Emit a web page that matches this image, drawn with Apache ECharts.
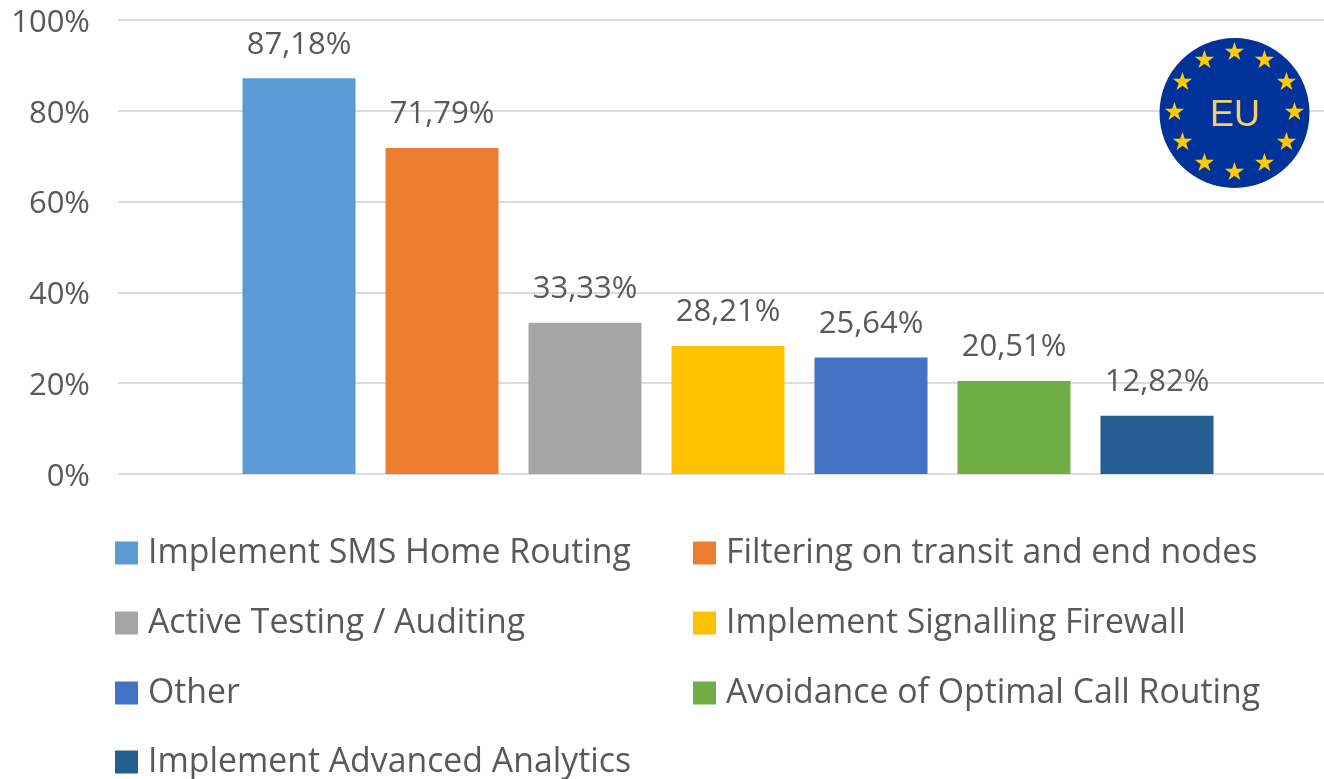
<!DOCTYPE html>
<html><head><meta charset="utf-8">
<style>html,body{margin:0;padding:0;background:#fff}#c{width:1324px;height:779px}</style>
<script src="https://cdn.jsdelivr.net/npm/echarts@6/dist/echarts.min.js"></script></head>
<body><div id="c"></div>
<script>
const categories=['Implement SMS Home Routing','Filtering on transit and end nodes','Active Testing / Auditing','Implement Signalling Firewall','Other','Avoidance of Optimal Call Routing','Implement Advanced Analytics'];
const values=[87.18,71.79,33.33,28.21,25.64,20.51,12.82];
const colors=['#5b9bd5','#ed7d31','#a5a5a5','#ffc000','#4472c4','#70ad47','#255e91'];
const FONT='"Open Sans","Noto Sans",sans-serif';
const chart=echarts.init(document.getElementById('c'),null,{renderer:'canvas'});
const legendCols=[115,693], legendRows=[552,622,692,761];
const legends=categories.map((n,i)=>({
  data:[n],left:legendCols[i%2],top:legendRows[Math.floor(i/2)]-16,orient:'horizontal',
  icon:'rect',itemWidth:23,itemHeight:23,padding:0,selectedMode:false,
  textStyle:{fontFamily:FONT,fontSize:33.8,color:'#595959',padding:[0,0,0,5]}
}));
const series=categories.map((n,i)=>({
  name:n,type:'bar',xAxisIndex:1,yAxisIndex:1,barWidth:113,barGap:'-100%',
  itemStyle:{color:colors[i]},
  label:{show:true,position:'top',distance:18,fontFamily:FONT,fontSize:31,color:'#595959',
    formatter:()=>values[i].toFixed(2).replace('.',',')+'%'},
  data:categories.map((c,j)=>j===i?values[i]:null)
}));
const stars=[];
for(let k=0;k<12;k++){const a=k*Math.PI/6;
  stars.push({type:'text',style:{text:'★',x:1234.5+Math.sin(a)*60,y:113-Math.cos(a)*60,align:'center',verticalAlign:'middle',fontSize:25,fill:'#ffcc00',fontFamily:'DejaVu Sans'},z:12});}
chart.setOption({
  animation:false,
  color:colors,
  grid:[{left:118,right:0,top:20,bottom:305},{left:227.5,width:1001,top:20,bottom:305}],
  legend:legends,
  xAxis:[{gridIndex:0,type:'value',min:0,max:1,show:false},
    {gridIndex:1,type:'category',data:categories,axisTick:{show:false},axisLabel:{show:false},axisLine:{show:false}}],
  yAxis:[{gridIndex:0,type:'value',min:0,max:100,interval:20,
    axisLabel:{formatter:v=>v+'%',fontFamily:FONT,fontSize:31,color:'#595959',margin:28,verticalAlign:'top',lineHeight:6},
    axisLine:{show:false},axisTick:{show:false},
    splitLine:{lineStyle:{color:'#dcdcdc',width:2}}},
    {gridIndex:1,type:'value',min:0,max:100,interval:20,show:false,splitLine:{show:false}}],
  series,
  graphic:[{type:'circle',shape:{cx:1234.5,cy:113,r:75},style:{fill:'#003399'},z:11},
    {type:'text',style:{text:'EU',x:1235,y:116,align:'center',verticalAlign:'middle',fontSize:36,fill:'#f6cf6a',fontFamily:'Liberation Sans'},z:12},
    ...stars]
});
</script></body></html>
